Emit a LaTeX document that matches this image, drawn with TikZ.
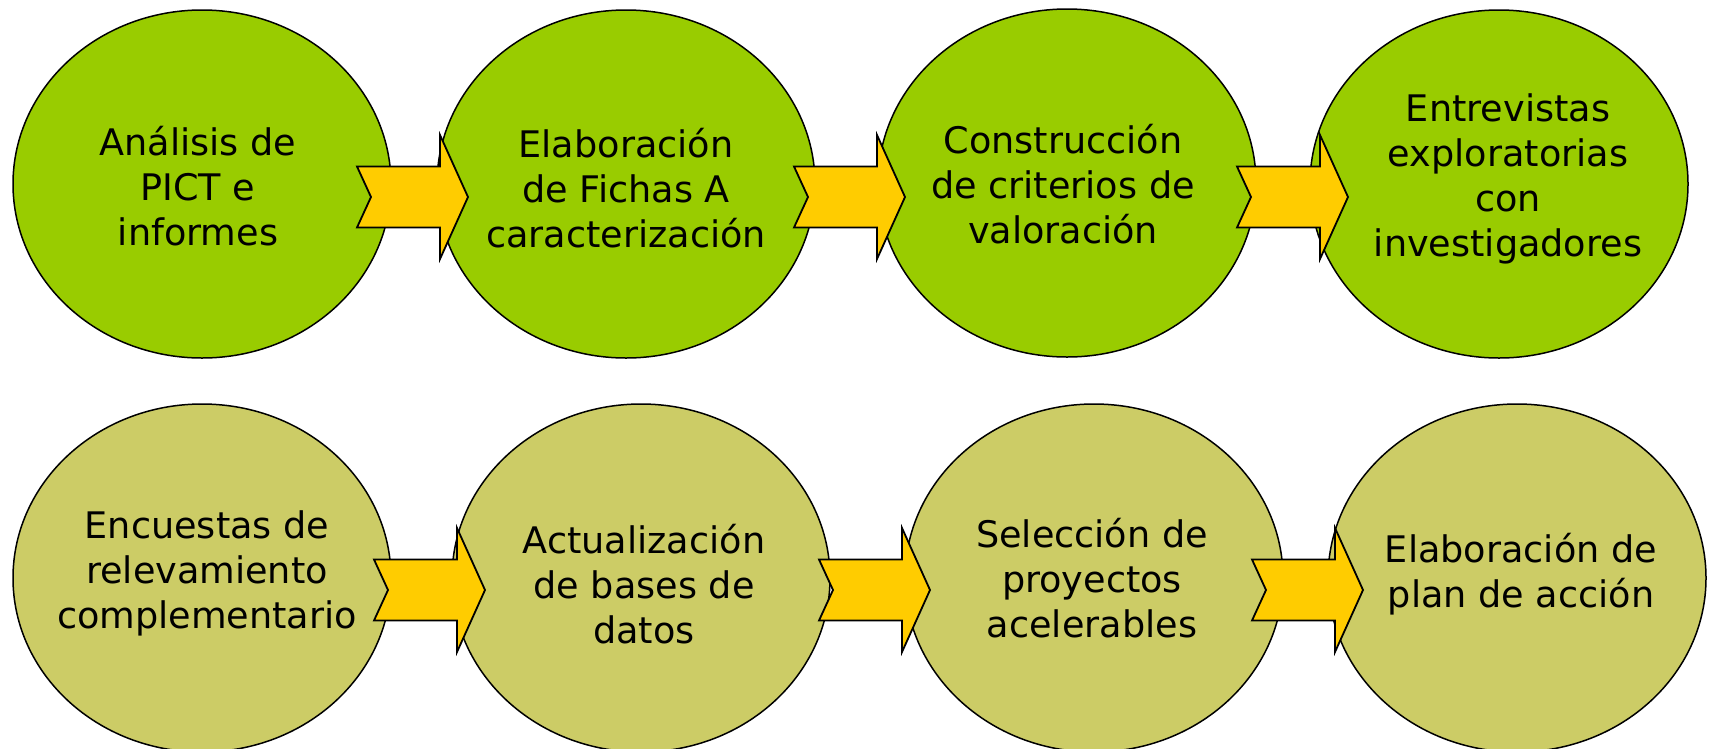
\documentclass[tikz,border=0pt]{standalone}
\usepackage{fontspec}
\setmainfont{DejaVu Sans}
\usetikzlibrary{shapes.geometric}
\definecolor{topgreen}{HTML}{99CC00}
\definecolor{botolive}{HTML}{CCCC66}
\definecolor{arrowyellow}{HTML}{FFCC00}
\tikzset{
  stage/.style={ellipse, draw=black, line width=1.5pt, minimum width=378pt, minimum height=348pt, inner sep=0pt},
  topstage/.style={stage, fill=topgreen},
  botstage/.style={stage, fill=botolive},
  stagetext/.style={align=center, font=\fontsize{36.6}{45}\selectfont, inner sep=0pt},
  blockarrow/.pic={
    \draw[fill=arrowyellow, line width=1.8pt, line join=miter]
      (0,-30.5) -- (83,-30.5) -- (83,-62) -- (111,0) -- (83,62) -- (83,30.5)
      -- (0,30.5) -- (14,0) -- cycle;
  }
}
\begin{document}
\begin{tikzpicture}[x=1pt, y=-1pt]
\useasboundingbox (0,0) rectangle (1712,748);
\clip (0,0) rectangle (1712,748);
\fill[white] (0,0) rectangle (1712,748);
% top row
\node[topstage] (e1) at (202,184) {};
\node[topstage] (e2) at (626,184) {};
\node[topstage] (e3) at (1067,183) {};
\node[topstage] (e4) at (1499,184) {};
% bottom row
\node[botstage] (e5) at (202,578) {};
\node[botstage] (e6) at (641,578) {};
\node[botstage] (e7) at (1094,578) {};
\node[botstage] (e8) at (1517,578) {};
% arrows
\pic at (357,197) {blockarrow};
\pic at (794,197) {blockarrow};
\pic at (1237,197) {blockarrow};
\pic at (374,590) {blockarrow};
\pic at (819,590) {blockarrow};
\pic at (1252,590) {blockarrow};
% texts
\node[stagetext] (t1) at (198,186) {Análisis de\\PICT e\\informes};
\node[stagetext] (t2) at (626,188) {Elaboración\\de Fichas A\\caracterización};
\node[stagetext] (t3) at (1063,184) {Construcción\\de criterios de\\valoración};
\node[stagetext] (t4) at (1508,179) {Entrevistas\\exploratorias\\con\\investigadores};
\node[stagetext] (t5) at (207,573) {Encuestas de\\relevamiento\\complementario};
\node[stagetext] (t6) at (644,584) {Actualización\\de bases de\\datos};
\node[stagetext] (t7) at (1092,578) {Selección de\\proyectos\\acelerables};
\node[stagetext] (t8) at (1521,574) {Elaboración de\\plan de acción};
\end{tikzpicture}
\end{document}
